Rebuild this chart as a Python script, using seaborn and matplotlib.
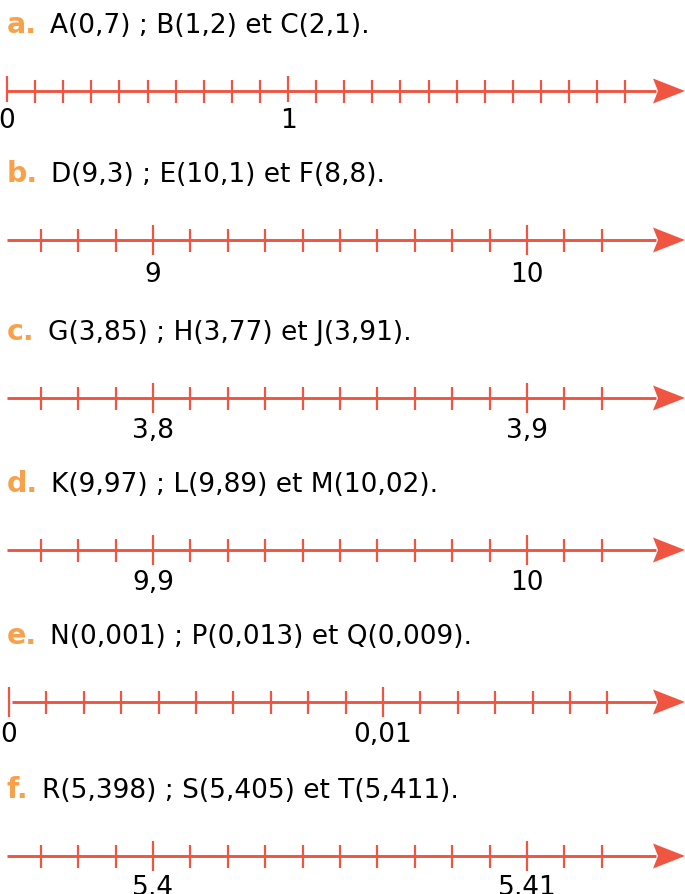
import numpy as np
import matplotlib
matplotlib.use("Agg")
import matplotlib.pyplot as plt
import seaborn as sns

# --- content of the six exercises ---
letters = ["a.", "b.", "c.", "d.", "e.", "f."]
statements = [
    "A(0,7) ; B(1,2) et C(2,1).",
    "D(9,3) ; E(10,1) et F(8,8).",
    "G(3,85) ; H(3,77) et J(3,91).",
    "K(9,97) ; L(9,89) et M(10,02).",
    "N(0,001) ; P(0,013) et Q(0,009).",
    "R(5,398) ; S(5,405) et T(5,411).",
]
major_values = [[0, 1], [9, 10], [3.8, 3.9], [9.9, 10], [0, 0.01], [5.4, 5.41]]
major_labels = [["0", "1"], ["9", "10"], ["3,8", "3,9"], ["9,9", "10"],
                ["0", "0,01"], ["5,4", "5,41"]]
# graduations: first tick, last tick, step
tick_first = [0, 8.7, 3.77, 9.87, 0, 5.397]
tick_last = [2.2, 10.2, 3.92, 10.02, 0.016, 5.412]
tick_step = [0.1, 0.1, 0.01, 0.01, 0.001, 0.001]

# --- layout (pixels) ---
W, H = 685, 895
line_y = [92, 241, 399, 551, 703, 857]
major_px = [(7, 288), (153, 527), (153, 527), (153, 527), (9, 383), (153, 527)]
line_start_px = [7, 7, 7, 7, 12, 7]
label_drop = [36, 41, 39, 39, 39, 38]
major_down = [11, 15, 15, 15, 15, 15]
# arrow head outline (px along the line, px across)
head_px = [653, 685, 653, 658]
head_py = [12.5, 0, -12.5, 0]

RED = "#EF5541"
ORANGE = "#F7A14A"
FS = 19
FS_LETTER = 20.5

sns.set_theme(style="white")
plt.rcParams["font.family"] = ["DejaVu Sans"]

fig = plt.figure(figsize=(W / 100, H / 100), dpi=100)

for i in range(6):
    y = line_y[i]
    ax = fig.add_axes([0, 1 - (y + 30) / H, 1, 60 / H])
    m0, m1 = major_values[i]
    p0, p1 = major_px[i]
    scale = (m1 - m0) / (p1 - p0)

    def px2x(p):
        return m0 + (np.asarray(p, dtype=float) - p0) * scale

    ax.set_xlim(px2x(0), px2x(W))
    ax.set_ylim(-30, 30)
    ax.axis("off")

    # axis line with arrow head
    ax.plot(px2x([line_start_px[i], 656]), [0, 0], color=RED, lw=2.1,
            solid_capstyle="butt")
    ax.fill(px2x(head_px), head_py, color=RED, lw=0)

    # graduations
    ticks = np.round(np.arange(tick_first[i], tick_last[i] + tick_step[i] / 2,
                               tick_step[i]), 6)
    minor = [t for t in ticks if min(abs(t - m0), abs(t - m1)) > tick_step[i] / 10]
    ax.vlines(minor, -11.5, 11, color=RED, lw=1.6)
    ax.vlines(major_values[i], -major_down[i], 15, color=RED, lw=1.6)

    for v, lab in zip(major_values[i], major_labels[i]):
        ax.text(v, -label_drop[i], lab, ha="center", va="baseline",
                fontsize=FS, color="black")

    # title
    t = ax.text(px2x(7), 59, letters[i], color=ORANGE, fontweight="bold",
                fontsize=FS_LETTER, va="baseline", ha="left")
    ax.annotate(statements[i], xy=(1, 0), xycoords=t, xytext=(9.5, 0),
                textcoords="offset points", va="bottom", ha="left",
                fontsize=FS, color="black")

fig.savefig("out.png", dpi=100)
